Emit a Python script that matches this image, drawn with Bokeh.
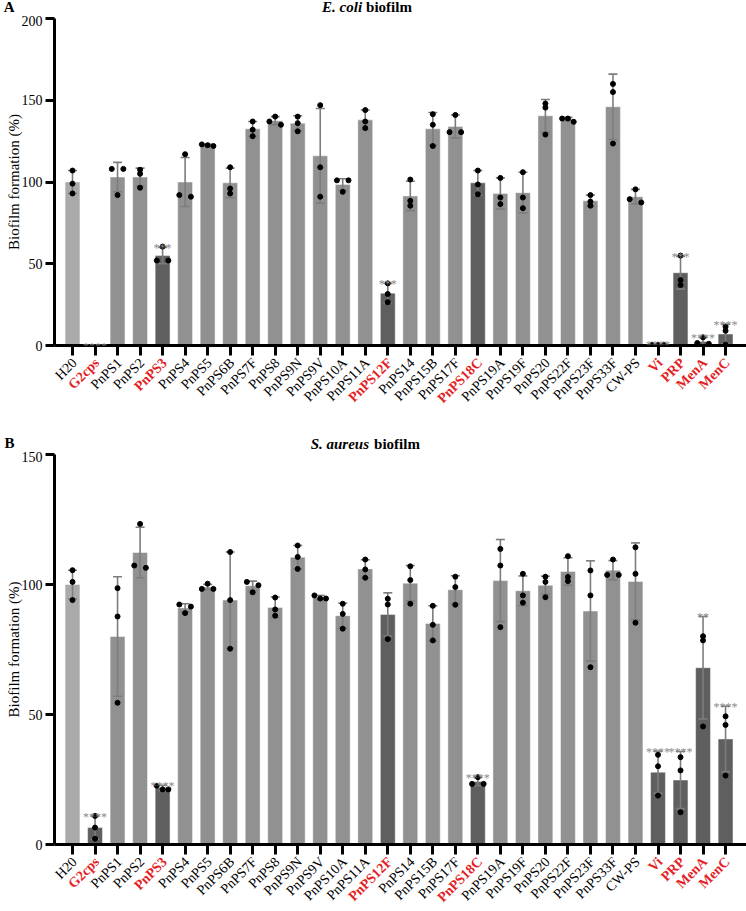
import math
from bokeh.plotting import figure
from bokeh.models import Range1d, FixedTicker, Label, ColumnDataSource, LinearAxis
from bokeh.core.properties import value
from bokeh.layouts import column
from bokeh.embed import file_html
from bokeh.resources import INLINE

categories = ["H20", "G2cps", "PnPS1", "PnPS2", "PnPS3", "PnPS4", "PnPS5", "PnPS6B",
              "PnPS7F", "PnPS8", "PnPS9N", "PnPS9V", "PnPS10A", "PnPS11A", "PnPS12F",
              "PnPS14", "PnPS15B", "PnPS17F", "PnPS18C", "PnPS19A", "PnPS19F", "PnPS20",
              "PnPS22F", "PnPS23F", "PnPS33F", "CW-PS", "Vi", "PRP", "MenA", "MenC"]
highlighted = ["G2cps", "PnPS3", "PnPS12F", "PnPS18C", "Vi", "PRP", "MenA", "MenC"]
control = ["H20"]
y_title = "Biofilm formation (%)"

# ---- Panel A : E. coli biofilm ----
ecoli_species, ecoli_rest = "E. coli", "biofilm"
ecoli_mean = [100, 0, 103, 103, 55, 100, 122.5, 99.5, 132.5, 137.5, 136, 116, 98.5, 138,
              32, 91.5, 132.5, 134, 99.5, 93, 93.5, 140.5, 138.5, 88.5, 146, 91,
              0.5, 44.5, 2.5, 7]
ecoli_sd = [7, 0, 9, 5.5, 5, 15, 0.5, 9, 4.5, 2.5, 4.5, 29, 3.5, 6,
            6, 9, 10, 7, 7.5, 9.5, 12.5, 10, 1, 3.5, 20, 4.5,
            0.3, 10, 2.5, 6]
ecoli_rep1 = [107, 0, 108, 107.5, 60.5, 117, 122, 109, 137, 140, 140, 147, 101, 144,
              38, 101.5, 141.5, 141, 107, 102.5, 106, 148, 138.8, 92, 160, 95.5,
              0.5, 55, 5, 11.5]
ecoli_rep2 = [99, 0, 108, 105, 52, 91, 123, 96, 132, 137, 136, 109, 101, 137,
              31.5, 88.5, 135, 130.5, 98.5, 90.5, 90.5, 145.5, 138.8, 88, 155, 89.5,
              0.5, 40, 1.5, 9]
ecoli_rep3 = [93, 0, 92, 96.5, 52, 92, 122.5, 93, 128, 135, 131, 91, 94, 133,
              26.5, 85.5, 122, 130.5, 92.5, 86.5, 84, 129, 136.8, 85.5, 123.5, 87.5,
              0.5, 37, 1, 0.5]
ecoli_stars = {"G2cps": "****", "PnPS3": "***", "PnPS12F": "***", "Vi": "****",
               "PRP": "***", "MenA": "****", "MenC": "****"}
ecoli_yticks = [0, 50, 100, 150, 200]

# ---- Panel B : S. aureus biofilm ----
saureus_species, saureus_rest = "S. aureus", "biofilm"
saureus_mean = [100, 6.5, 80, 112.3, 21.8, 91, 99, 94, 99.5, 91.2, 110.5, 95, 88, 106,
                88.5, 100.5, 85, 98, 24.2, 101.5, 97.6, 99.7, 105, 89.8, 105.5, 101.2,
                27.8, 24.8, 68, 40.6]
saureus_sd = [5.5, 4.5, 23, 9.7, 1, 1.6, 1, 18.5, 1.8, 4, 4.5, 0.8, 4.8, 3.5,
              8.3, 6.8, 6.8, 5.4, 1.6, 15.8, 5.7, 3.5, 5.3, 19.3, 3.7, 14.8,
              8.1, 11, 19.7, 12.6]
saureus_rep1 = [105.5, 11, 98.6, 123.3, 22.6, 92.3, 100.3, 112.5, 101, 95, 115, 95.8, 92.6, 109.6,
                94.5, 107, 91.8, 103, 25.9, 113.7, 104.1, 103, 110.9, 105.4, 109.6, 114.3,
                34.5, 33.6, 80.1, 49.3]
saureus_rep2 = [101, 6.5, 87.7, 106.4, 21.2, 91.5, 98.3, 94, 99.7, 90.4, 110.6, 94.6, 88.7, 105.8,
                92.3, 101.7, 84.5, 99, 23.3, 107.3, 95.8, 101, 101.3, 95.8, 103.7, 104.1,
                30.1, 28.5, 78.5, 46]
saureus_rep3 = [94, 2.2, 54.5, 107.3, 21.2, 89, 98.3, 75.3, 97, 88, 106, 94.6, 83, 102.6,
                79, 92.6, 78.5, 92.2, 23.3, 83.6, 93, 95.1, 102.9, 68.2, 103.7, 85.3,
                18.8, 12.4, 45.4, 26.5]
saureus_stars = {"G2cps": "****", "PnPS3": "****", "PnPS18C": "****", "Vi": "****",
                 "PRP": "****", "MenA": "**", "MenC": "****"}
saureus_yticks = [0, 50, 100, 150]

# ---- styling / layout constants ----
FONT = "Liberation Serif"
RED = "#e41f26"
C_LIGHT, C_MID, C_DARK = "#aaaaaa", "#919191", "#5f5f5f"
ERR = "#7d7d7d"
STAR = "#8a8a8a"

FIG_W = 746
BORDER_L = 53
X_START, X_END = -0.8, 29.93
XPPU = (FIG_W - BORDER_L) / (X_END - X_START)          # pixels per category unit


def px_to_x(px):
    return X_START + (px - BORDER_L) / XPPU


def strip(height):
    """A figure whose frame is aligned with the main plots, used for outside texts."""
    s = figure(width=FIG_W, height=height, output_backend="svg", toolbar_location=None,
               x_range=Range1d(X_START, X_END), y_range=Range1d(height, 0),
               min_border_left=BORDER_L, min_border_right=0, min_border_top=0,
               min_border_bottom=0, x_axis_location=None, y_axis_location=None,
               title=None, tools="")
    s.outline_line_color = None
    s.grid.visible = False
    return s


def title_strip(height, letter, letter_y, species, rest, species_right_px, rest_left_px,
                center_y):
    s = strip(height)
    # panel letter, carried by an otherwise invisible axis in the left border
    ax = LinearAxis(ticker=FixedTicker(ticks=[letter_y]),
                    major_label_overrides={letter_y: letter},
                    axis_line_color=None, major_tick_line_color=None,
                    minor_tick_line_color=None, major_tick_out=0, major_tick_in=0,
                    major_label_standoff=40, major_label_text_font=FONT,
                    major_label_text_font_size="15px", major_label_text_font_style="bold",
                    major_label_text_color="black")
    s.add_layout(ax, "left")
    s.text(x=[px_to_x(species_right_px)], y=[center_y], text=[species], text_align="right",
           text_baseline="middle", text_font=value(FONT), text_font_size=value("15px"),
           text_font_style="bold italic", text_color="black")
    s.text(x=[px_to_x(rest_left_px)], y=[center_y], text=[rest], text_align="left",
           text_baseline="middle", text_font=value(FONT), text_font_size=value("15px"),
           text_font_style="bold", text_color="black")
    return s


def label_strip(height):
    s = strip(height)
    hl = [c in highlighted for c in categories]
    src = ColumnDataSource(dict(
        x=[i + 2 / XPPU for i in range(len(categories))],
        y=[4] * len(categories),
        t=categories,
        c=[RED if h else "black" for h in hl],
        f=["bold" if h else "normal" for h in hl]))
    s.text(x="x", y="y", text="t", source=src, angle=math.pi / 4, text_align="right",
           text_baseline="middle", text_font=value(FONT), text_font_size=value("14px"),
           text_color="c", text_font_style="f")
    return s


def swarm_offsets(values, ppu, step_px, thresh_px=4.0):
    order = sorted(range(len(values)), key=lambda i: -values[i])
    groups = []
    for i in order:
        if groups and (values[groups[-1][-1]] - values[i]) * ppu < thresh_px:
            groups[-1].append(i)
        else:
            groups.append([i])
    offs = [0.0] * len(values)
    for g in groups:
        k = len(g)
        for j, i in enumerate(g):
            pos = 0.0 if k == 1 else -1 + 2 * j / (k - 1)
            offs[i] = pos * step_px / XPPU
    return offs


def main_plot(mean, sd, reps, stars, yticks, height, btop, bbot):
    ymax = yticks[-1]
    n = len(categories)
    xs = list(range(n))
    ppu = (height - btop - bbot) / ymax

    p = figure(width=FIG_W, height=height, output_backend="svg", toolbar_location=None,
               x_range=Range1d(X_START, X_END), y_range=Range1d(0, ymax),
               min_border_left=BORDER_L, min_border_right=0,
               min_border_top=btop, min_border_bottom=bbot, title=None, tools="")
    p.outline_line_color = None
    p.grid.visible = False

    colors = [C_LIGHT if c in control else (C_DARK if c in highlighted else C_MID)
              for c in categories]
    p.vbar(x=xs, top=mean, bottom=0, width=0.66, fill_color=colors,
           line_color="#ffffff", line_alpha=0.45, line_width=1)

    up = [m + s for m, s in zip(mean, sd)]
    lo = [max(m - s, 0) for m, s in zip(mean, sd)]
    cap = 4.5 / XPPU
    p.segment(x0=xs, y0=lo, x1=xs, y1=up, line_color=ERR, line_width=1.6)
    p.segment(x0=[x - cap for x in xs], y0=up, x1=[x + cap for x in xs], y1=up,
              line_color=ERR, line_width=1.6)
    p.segment(x0=[x - cap for x in xs], y0=lo, x1=[x + cap for x in xs], y1=lo,
              line_color=ERR, line_width=1.6)

    dx, dy = [], []
    for i in xs:
        vals = [r[i] for r in reps]
        offs = swarm_offsets(vals, ppu, 5.8)
        for v, o in zip(vals, offs):
            if v > 0:
                dx.append(i + o)
                dy.append(v)
    p.scatter(x=dx, y=dy, size=5, fill_color="black", line_color="black")

    for i, c in enumerate(categories):
        if c in stars:
            top = max([up[i]] + [r[i] for r in reps])
            p.add_layout(Label(x=i, y=top, y_offset=-1, text=stars[c], text_align="center",
                               text_baseline="alphabetic", text_font=FONT,
                               text_font_size="12px", text_color=STAR))

    ax = p.yaxis[0]
    ax.ticker = FixedTicker(ticks=yticks)
    ax.axis_line_width = 3
    ax.axis_line_color = "black"
    ax.major_tick_line_width = 3
    ax.major_tick_out = 9
    ax.major_tick_in = 0
    ax.minor_tick_line_color = None
    ax.major_label_standoff = 3
    ax.major_label_text_font = FONT
    ax.major_label_text_font_size = "14px"
    ax.major_label_text_color = "black"
    ax.axis_label = y_title
    ax.axis_label_standoff = -3
    ax.axis_label_text_font = FONT
    ax.axis_label_text_font_size = "15px"
    ax.axis_label_text_font_style = "normal"
    ax.axis_label_text_color = "black"

    # category axis: one (label-free) minor tick per category; the coloured
    # category names are drawn in the strip below
    bx = p.xaxis[0]
    bx.ticker = FixedTicker(ticks=[], minor_ticks=xs)
    bx.axis_line_width = 3
    bx.axis_line_color = "black"
    bx.major_tick_line_color = None
    bx.major_tick_out = 0
    bx.major_tick_in = 0
    bx.minor_tick_line_color = "black"
    bx.minor_tick_line_width = 3
    bx.minor_tick_out = 10
    bx.minor_tick_in = 0
    bx.major_label_standoff = 0
    return p


topA = title_strip(15, "A", 8, ecoli_species, ecoli_rest, 361, 365, center_y=6.5)
mainA = main_plot(ecoli_mean, ecoli_sd, [ecoli_rep1, ecoli_rep2, ecoli_rep3],
                  ecoli_stars, ecoli_yticks, height=341, btop=3, bbot=11)
botA = label_strip(78)
topB = title_strip(17, "B", 10, saureus_species, saureus_rest, 368, 373, center_y=9)
mainB = main_plot(saureus_mean, saureus_sd, [saureus_rep1, saureus_rep2, saureus_rep3],
                  saureus_stars, saureus_yticks, height=404, btop=3, bbot=11)
botB = label_strip(56)

layout = column(topA, mainA, botA, topB, mainB, botB, spacing=0)
open("out.html", "w").write(file_html(layout, INLINE))
